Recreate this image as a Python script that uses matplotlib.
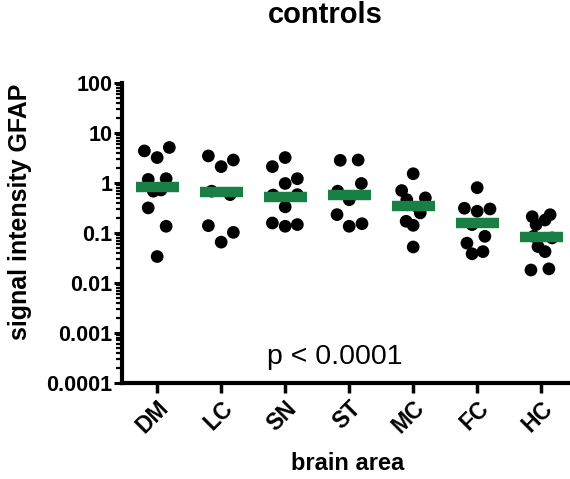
import numpy as np
import matplotlib
matplotlib.use("Agg")
import matplotlib.pyplot as plt
from matplotlib.ticker import LogLocator, FixedLocator, FixedFormatter

plt.rcParams['font.family'] = ['Liberation Sans', 'DejaVu Sans']

areas = ["DM", "LC", "SN", "ST", "MC", "FC", "HC"]

# signal intensity per animal
dm = [4.35, 5.1, 3.2, 1.17, 1.21, 0.68, 0.72, 0.315, 0.135, 0.0335]
lc = [3.45, 2.86, 2.11, 0.68, 0.58, 0.139, 0.102, 0.065]
sn = [3.2, 2.11, 1.21, 0.97, 0.57, 0.58, 0.33, 0.157, 0.135, 0.146]
st = [2.82, 2.86, 0.97, 0.68, 0.46, 0.231, 0.135, 0.152]
mc = [1.52, 0.70, 0.50, 0.46, 0.32, 0.17, 0.141, 0.25, 0.052]
fc = [0.80, 0.31, 0.27, 0.30, 0.146, 0.085, 0.062, 0.038, 0.042]
hc = [0.23, 0.18, 0.21, 0.146, 0.085, 0.079, 0.053, 0.042, 0.018, 0.019]
values = [dm, lc, sn, st, mc, fc, hc]

# central value (green bar)
centers = [0.835, 0.66, 0.525, 0.58, 0.35, 0.157, 0.081]

# horizontal scatter of the dots (in category widths)
dm_dx = [-0.20, 0.19, 0.0, -0.14, 0.14, -0.06, 0.06, -0.14, 0.14, 0.0]
lc_dx = [-0.20, 0.19, 0.0, -0.15, 0.14, -0.20, 0.19, 0.0]
sn_dx = [0.0, -0.20, 0.19, 0.0, -0.19, 0.19, 0.0, -0.20, 0.0, 0.19]
st_dx = [-0.14, 0.14, 0.19, -0.18, 0.0, -0.19, 0.0, 0.20]
mc_dx = [0.0, -0.18, 0.19, -0.10, 0.08, -0.11, 0.0, 0.11, 0.0]
fc_dx = [0.0, -0.20, 0.0, 0.20, -0.08, 0.12, -0.16, -0.08, 0.09]
hc_dx = [0.14, 0.06, -0.14, -0.08, -0.12, 0.17, -0.05, 0.06, -0.16, 0.12]
offsets = [dm_dx, lc_dx, sn_dx, st_dx, mc_dx, fc_dx, hc_dx]

fig = plt.figure(figsize=(5.70, 4.79), dpi=100)
ax = fig.add_axes([0.214, 0.201, 0.786, 0.626])

green = '#1a7f45'
for i, (vals, dx) in enumerate(zip(values, offsets)):
    xs = i + np.array(dx)
    ax.scatter(xs, vals, s=84, color='black', edgecolors='none', zorder=2)
    ax.hlines(centers[i], i - 0.335, i + 0.335, colors=green, linewidth=7.5, zorder=3)

ax.set_yscale('log')
ax.set_ylim(0.0001, 100)
ax.set_xlim(-0.55, 6.45)

yticks = [0.0001, 0.001, 0.01, 0.1, 1, 10, 100]
ax.yaxis.set_major_locator(FixedLocator(yticks))
ax.yaxis.set_major_formatter(FixedFormatter(["0.0001", "0.001", "0.01", "0.1", "1", "10", "100"]))
ax.yaxis.set_minor_locator(LogLocator(base=10, subs=np.arange(2, 10), numticks=20))

ax.set_xticks(range(len(areas)))
ax.set_xticklabels(areas, rotation=45, ha='right', rotation_mode='anchor',
                   fontsize=16.5, fontweight='bold')
for lab in ax.get_yticklabels():
    lab.set_fontweight('bold')
    lab.set_fontsize(15.5)

for side in ['top', 'right']:
    ax.spines[side].set_visible(False)
for side in ['left', 'bottom']:
    ax.spines[side].set_linewidth(3)

ax.tick_params(axis='y', which='major', length=6, width=2.2, pad=1)
ax.tick_params(axis='y', which='minor', length=4, width=1.6)
ax.tick_params(axis='x', which='major', length=7, width=2.5, pad=3)

ax.text(0.475, 0.086, "p < 0.0001", transform=ax.transAxes, ha='center', va='center',
        fontsize=20.5)

fig.text(325 / 570, 1 - 15 / 479, "controls", ha='center', va='center',
         fontsize=21, fontweight='bold')
fig.text(348 / 570, 1 - 463 / 479, "brain area", ha='center', va='center',
         fontsize=17, fontweight='bold')
fig.text(20 / 570, 1 - 212 / 479, "signal intensity GFAP", ha='center', va='center',
         rotation=90, fontsize=18, fontweight='bold')

fig.savefig("out.png", dpi=100)
